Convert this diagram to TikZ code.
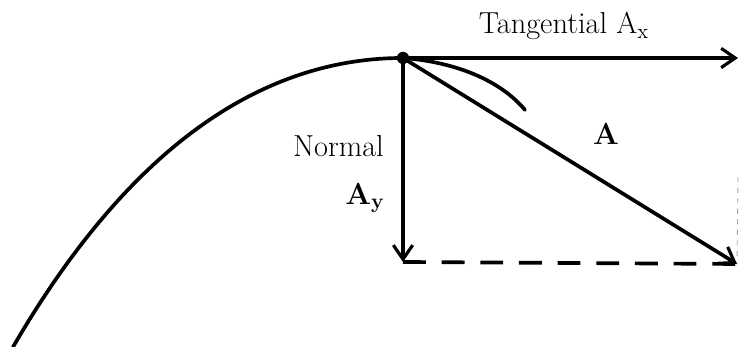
\documentclass[tikz,border=0pt]{standalone}
\usepackage{tikz}
\usetikzlibrary{arrows.meta}

\begin{document}
\begin{tikzpicture}[>={Straight Barb[length=8pt,width=11pt,line width=1.8pt]}, font=\LARGE,
  vec/.style={->, line width=2.1pt},
  path/.style={line width=2.1pt, line cap=round},
  comp/.style={line width=2.1pt, dash pattern=on 13pt off 9pt}]

\useasboundingbox (0,0) rectangle (14.8,6.94);

%-- apex of the path and tips of the vectors
\coordinate (P)  at ( 8.06, 5.78);
\coordinate (Tx) at (14.76, 5.78);
\coordinate (Ny) at ( 8.06, 1.70);
\coordinate (Rs) at (14.74, 1.66);
\coordinate (Q0) at ( 0.26, 0.00);
\coordinate (Q1) at (10.50, 4.74);
\coordinate (Rt) at (14.76, 3.40);

%-- the curved path
\draw[path] (Q0) .. controls (2.7,4.20) and (5.40,5.78) .. (P);
\draw[path] (P) .. controls (9.1,5.70) and (10.0,5.34) .. (Q1);

%-- completing sides of the rectangle
\draw[comp] (Ny)--(Rs);
\draw[black!35, line width=0.5pt, dashed] (Rt)--(Rs);

%-- vectors
\foreach \r in {Tx,Ny,Rs}
  \draw[vec] (P)--(\r);

\fill[black] (P) circle (3.5pt);

%-- labels
\node (lblT) at (11.28, 6.42) {Tangential A\textsubscript{x}};
\node[anchor=east] (lblN) at (7.80, 4.02) {Normal};
\node (lblAy) at (7.30, 2.98) {\textbf{A\textsubscript{y}}};
\node (lblA)  at (12.12, 4.26) {\textbf{A}};

\end{tikzpicture}
\end{document}
